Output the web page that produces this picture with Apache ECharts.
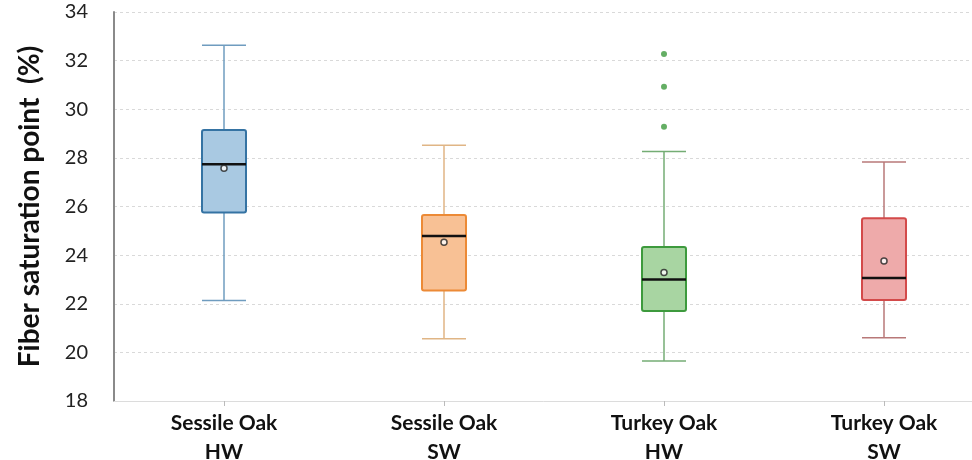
<!DOCTYPE html>
<html><head><meta charset="utf-8">
<script src="https://cdn.jsdelivr.net/npm/echarts@6/dist/echarts.min.js"></script>
<style>html,body{margin:0;padding:0;background:#fff}#c{width:972px;height:460px}</style>
</head><body><div id="c"></div>
<script>
const categories = ['Sessile Oak\nHW', 'Sessile Oak\nSW', 'Turkey Oak\nHW', 'Turkey Oak\nSW'];
const whiskerLow  = [22.13, 20.56, 19.65, 20.60];
const q1          = [25.75, 22.54, 21.70, 22.15];
const median      = [27.74, 24.79, 23.00, 23.06];
const q3          = [29.15, 25.65, 24.33, 25.52];
const whiskerHigh = [32.63, 28.52, 28.26, 27.83];
const means       = [27.57, 24.53, 23.29, 23.76];
const outlierCats = [2, 2, 2];
const outlierVals = [32.27, 30.93, 29.28];
const yTicks = [18, 34, 2]; // min, max, interval

const fills    = ['#a9c9e2', '#f8c195', '#a8d5a2', '#eeaaaa'];
const borders  = ['#3573a3', '#ec8a36', '#3d9a3d', '#d34a4a'];
const whiskers = ['#6f9cbf', '#e0b585', '#74ad74', '#b87878'];
const outlierColor = '#3d9a3d';

const boxData = categories.map((c, i) => [i, whiskerLow[i], q1[i], median[i], q3[i], whiskerHigh[i]]);
const meanData = categories.map((c, i) => [i, means[i]]);
const outlierData = outlierCats.map((c, i) => [c, outlierVals[i]]);

const font = 'Lato, "Open Sans", sans-serif';
const chart = echarts.init(document.getElementById('c'));
chart.setOption({
  animation: false,
  grid: { left: 114, right: -22, top: 12, bottom: 59, containLabel: false, outerBoundsMode: 'none' },
  xAxis: {
    type: 'category', data: categories,
    axisLine: { show: true, lineStyle: { color: '#dcdcdc', width: 1 } },
    axisTick: { show: true, alignWithLabel: true, length: 5, lineStyle: { color: '#bbbbbb' } },
    axisLabel: { fontFamily: font, fontWeight: 'bold', fontSize: 21, color: '#111', lineHeight: 29, margin: 8 },
    splitLine: { show: false }
  },
  yAxis: {
    type: 'value', min: yTicks[0], max: yTicks[1], interval: yTicks[2],
    name: 'Fiber saturation point  (%)', nameLocation: 'middle', nameGap: 70,
    nameTextStyle: { fontFamily: font, fontWeight: 'bold', fontSize: 28, color: '#111' },
    axisLine: { show: true, lineStyle: { color: '#8a8a8a', width: 2 } },
    axisTick: { show: false },
    axisLabel: { fontFamily: font, fontSize: 20, color: '#222', margin: 26 },
    splitLine: { show: true, lineStyle: { color: '#d9d9d9', type: [3, 3], width: 1 } }
  },
  series: [
    {
      type: 'custom', data: boxData, encode: { x: 0, y: [1, 2, 3, 4, 5] },
      renderItem: function (params, api) {
        const i = api.value(0);
        const lo = api.coord([i, api.value(1)]);
        const b1 = api.coord([i, api.value(2)]);
        const md = api.coord([i, api.value(3)]);
        const b3 = api.coord([i, api.value(4)]);
        const hi = api.coord([i, api.value(5)]);
        const w = api.size([1, 0])[0] * 0.2;
        const x = lo[0];
        const wc = whiskers[i];
        return {
          type: 'group',
          children: [
            { type: 'line', shape: { x1: x, y1: lo[1], x2: x, y2: hi[1] }, style: { stroke: wc, lineWidth: 1.5 } },
            { type: 'line', shape: { x1: x - w / 2, y1: lo[1], x2: x + w / 2, y2: lo[1] }, style: { stroke: wc, lineWidth: 1.5 } },
            { type: 'line', shape: { x1: x - w / 2, y1: hi[1], x2: x + w / 2, y2: hi[1] }, style: { stroke: wc, lineWidth: 1.5 } },
            { type: 'rect', shape: { x: x - w / 2, y: b3[1], width: w, height: b1[1] - b3[1], r: 2 }, style: { fill: fills[i], stroke: borders[i], lineWidth: 2 } },
            { type: 'line', shape: { x1: x - w / 2, y1: md[1], x2: x + w / 2, y2: md[1] }, style: { stroke: '#111', lineWidth: 2.5 } }
          ]
        };
      },
      z: 2
    },
    {
      type: 'scatter', data: meanData, symbol: 'circle', symbolSize: 6,
      itemStyle: { color: '#fff', borderColor: '#222', borderWidth: 1.5 }, z: 5
    },
    {
      type: 'scatter', data: outlierData, symbol: 'circle', symbolSize: 6,
      itemStyle: { color: outlierColor }, z: 5
    }
  ]
});
</script></body></html>
